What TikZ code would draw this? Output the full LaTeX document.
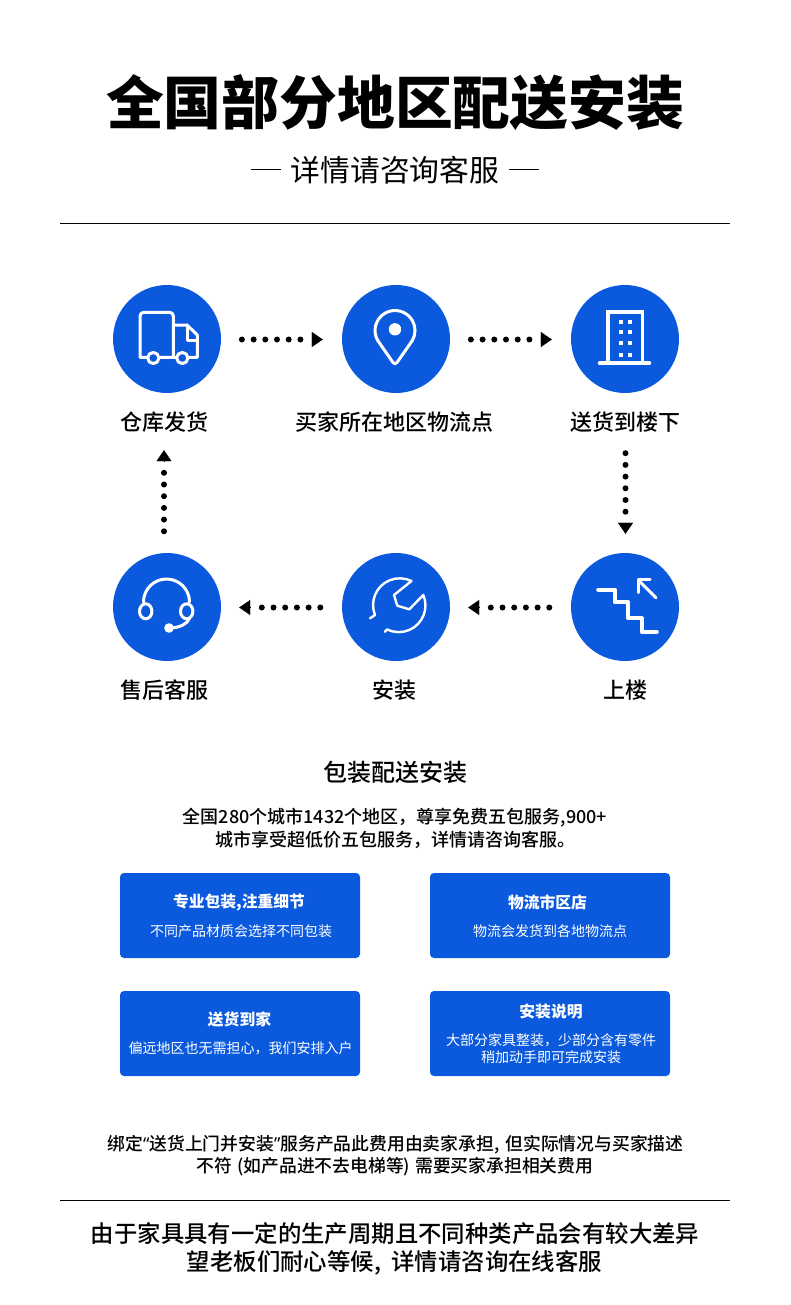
\documentclass[tikz,border=0pt]{standalone}
\usepackage{fontspec}
\setmainfont{Noto Sans CJK SC}
\newfontfamily\med{Noto Sans CJK SC Medium}
\newfontfamily\lat{Noto Sans}
\usetikzlibrary{arrows.meta}
\definecolor{brand}{RGB}{11,90,222}
\newcommand{\fs}[1]{\fontsize{#1}{#1}\selectfont}
\tikzset{
  disc/.style={circle,fill=brand,minimum size=108pt,inner sep=0pt},
  lbl/.style={inner sep=0pt,font=\med\fs{22},text=black},
  panel/.style={fill=brand,rounded corners=4pt,minimum width=240pt,minimum height=85pt,inner sep=0pt},
  ptitle/.style={inner sep=0pt,font=\fs{15.8}\bfseries,text=white},
  psub/.style={inner sep=0pt,font=\fs{14},text=white},
  body/.style={inner sep=0pt,font=\med\fs{18},text=black},
  flowdots/.style={line width=6pt,line cap=round,dash pattern=on 0pt off 11.7pt,black},
  flowhead/.style={line width=.2pt,black,-{Triangle[length=11pt,width=15pt]}},
  ico/.style={draw=white,line width=3pt,line join=round,line cap=round},
  rulel/.style={draw=black,line width=1pt},
}
\begin{document}
\begin{tikzpicture}[x=1pt,y=-1pt]
\useasboundingbox (0,0) rectangle (790,1305);
\node[inner sep=0pt,font=\fs{57.8}\bfseries] (title) at (395,103) {全国部分地区配送安装};
\node[inner sep=0pt,font=\fs{29.8}] (sub) at (395,170) {详情请咨询客服};
\coordinate (dl1) at (251,170); \coordinate (dl2) at (281,170);
\coordinate (dr1) at (509,170); \coordinate (dr2) at (539,170);
\draw[black,line width=1pt] (dl1)--(dl2) (dr1)--(dr2);
\coordinate (r1a) at (60,223.5); \coordinate (r1b) at (730,223.5);
\draw[rulel] (r1a)--(r1b);

\node[disc] (c1) at (167,339) {};
\node[disc] (c2) at (396,339) {};
\node[disc] (c3) at (625,339) {};
\node[disc] (c4) at (625,607) {};
\node[disc] (c5) at (396,607) {};
\node[disc] (c6) at (167,607) {};

\node[lbl] (l1) at (164.5,422) {仓库发货};
\node[lbl] (l2) at (394.5,422) {买家所在地区物流点};
\node[lbl] (l3) at (625.5,422) {送货到楼下};
\node[lbl] (l4) at (625,690) {上楼};
\node[lbl] (l5) at (394.5,690) {安装};
\node[lbl] (l6) at (164.5,690) {售后客服};

% connectors: dots, then the head on the same line
\draw[flowdots,shorten <=20.7pt,shorten >=36pt] ([yshift=-.5pt]c1.east)--([yshift=-.5pt]c2.west);
\draw[flowhead,shorten <=90.5pt,shorten >=19pt] ([yshift=-.5pt]c1.east)--([yshift=-.5pt]c2.west);
\draw[flowdots,shorten <=20.7pt,shorten >=36pt] ([yshift=-.5pt]c2.east)--([yshift=-.5pt]c3.west);
\draw[flowhead,shorten <=90.5pt,shorten >=19pt] ([yshift=-.5pt]c2.east)--([yshift=-.5pt]c3.west);
\draw[flowdots,shorten <=60pt,shorten >=36pt] ([xshift=.5pt]c3.south)--([xshift=.5pt]c4.north);
\draw[flowhead,shorten <=129.5pt,shorten >=19pt] ([xshift=.5pt]c3.south)--([xshift=.5pt]c4.north);
\draw[flowdots,shorten <=21.5pt,shorten >=35pt] ([yshift=-.5pt]c4.west)--([yshift=-.5pt]c5.east);
\draw[flowhead,shorten <=91.5pt,shorten >=18pt] ([yshift=-.5pt]c4.west)--([yshift=-.5pt]c5.east);
\draw[flowdots,shorten <=21.5pt,shorten >=35pt] ([yshift=-.5pt]c5.west)--([yshift=-.5pt]c6.east);
\draw[flowhead,shorten <=91.5pt,shorten >=18pt] ([yshift=-.5pt]c5.west)--([yshift=-.5pt]c6.east);
\draw[flowdots,shorten <=21.5pt,shorten >=74pt] ([xshift=-3pt]c6.north)--([xshift=-3pt]c1.south);
\draw[flowhead,shorten <=91.5pt,shorten >=57pt] ([xshift=-3pt]c6.north)--([xshift=-3pt]c1.south);

% truck
\draw[ico] (173.3,357.3)--(140,357.3)--(140,316) arc[start angle=180,end angle=270,radius=3.7]--(169.6,312.3) arc[start angle=270,end angle=360,radius=3.7]--(173.3,357.3);
\draw[ico] (173.3,325)--(187,325)--(197.3,335)--(197.3,357.3)--(173.3,357.3);
\draw[ico] (187,325)--(187,340)--(197.3,340);
\draw[ico,fill=brand] (153.3,358) circle[radius=5.6];
\draw[ico,fill=brand] (182.3,358) circle[radius=5.6];
% pin
\draw[ico] (377.7,340.5) arc[start angle=150,end angle=390,radius=20] -- (397,362.5) .. controls (395.8,364.2) and (394.2,364.2) .. (393,362.5) -- cycle;
\fill[white] (395,329.3) circle[radius=6.2];
% building
\draw[ico,line cap=butt,line join=miter,line width=3.4pt] (607.8,363)--(607.8,311.8)--(642.2,311.8)--(642.2,363);
\draw[ico,line width=3.4pt] (599.5,363)--(649.5,363);
\foreach \yy in {322,332.3,342.7,354.7}{
  \fill[white] (619,\yy-2) rectangle +(4,4);
  \fill[white] (628,\yy-2) rectangle +(4,4);
}
% stairs
\draw[ico,line width=4.2pt] (598.3,589.7)--(615,589.7)--(615,602.3)--(628.3,602.3)--(628.3,618.3)--(641.7,618.3)--(641.7,631.7)--(656.7,631.7);
\draw[ico] (656,597.7)--(638.3,580);
\draw[ico] (650,579.3)--(638.3,579.3)--(638.3,592.7);
% wrench
\draw[ico,line width=2.4pt] (370,618.3)--(375,615) arc[start angle=158,end angle=296,radius=26.7]--(394,595)--(397.3,605.7)--(409.3,609.3)--(423.3,595) arc[start angle=-23,end angle=116,radius=26.7]--(385,631.7);
% headset
\draw[ico] (143.5,602) arc[start angle=180,end angle=360,radius=23];
\draw[ico] (145.7,611.3) ellipse[x radius=6.2,y radius=7.5];
\draw[ico] (186.7,611.3) ellipse[x radius=6.2,y radius=7.5];
\draw[ico] (189.5,618.5) .. controls (187,624) and (180,627.5) .. (171,628);
\fill[white] (169,628) circle[radius=4.8];

% middle text
\node[inner sep=0pt,font=\med\fs{24}] (h2) at (395,772) {包装配送安装};
\node[body] (p1) at (395,817.5) {全国280个城市1432个地区，尊享免费五包服务,900+};
\node[body] (p2) at (395,839.5) {城市享受超低价五包服务，详情请咨询客服。};

\node[panel] (b1) at (240,915.5) {};
\node[panel] (b2) at (550,915.5) {};
\node[panel] (b3) at (240,1033.5) {};
\node[panel] (b4) at (550,1033.5) {};
\node[ptitle] (b1t) at (239,902.5) {专业包装,注重细节};
\node[psub] (b1s) at (241,931.5) {不同产品材质会选择不同包装};
\node[ptitle] (b2t) at (547.5,902.5) {物流市区店};
\node[psub] (b2s) at (550,931.5) {物流会发货到各地物流点};
\node[ptitle] (b3t) at (239.5,1019.5) {送货到家};
\node[psub] (b3s) at (240.5,1048.5) {偏远地区也无需担心，我们安排入户};
\node[ptitle] (b4t) at (551,1012) {安装说明};
\node[psub] (b4s) at (551,1040.5) {大部分家具整装，少部分含有零件};
\node[psub] (b4u) at (551,1057.5) {稍加动手即可完成安装};

% bottom
\node[body,font=\med\fs{17.8}] (n1) at (395.5,1145) {绑定{\lat “}送货上门并安装{\lat ”}服务产品此费用由卖家承担, \hspace{2pt}但实际情况与买家描述};
\node[body,font=\med\fs{17.8}] (n2) at (395,1167) {不符\hspace{1pt} (如产品进不去电梯等) \hspace{1pt}需要买家承担相关费用};
\coordinate (r2a) at (60,1200.5); \coordinate (r2b) at (730,1200.5);
\draw[rulel] (r2a)--(r2b);
\node[inner sep=0pt,font=\med\fs{23.4}] (f1) at (395,1234) {由于家具具有一定的生产周期且不同种类产品会有较大差异};
\node[inner sep=0pt,font=\med\fs{23.4}] (f2) at (394.5,1263) {望老板们耐心等候, \hspace{5pt}详情请咨询在线客服};
\end{tikzpicture}
\end{document}
